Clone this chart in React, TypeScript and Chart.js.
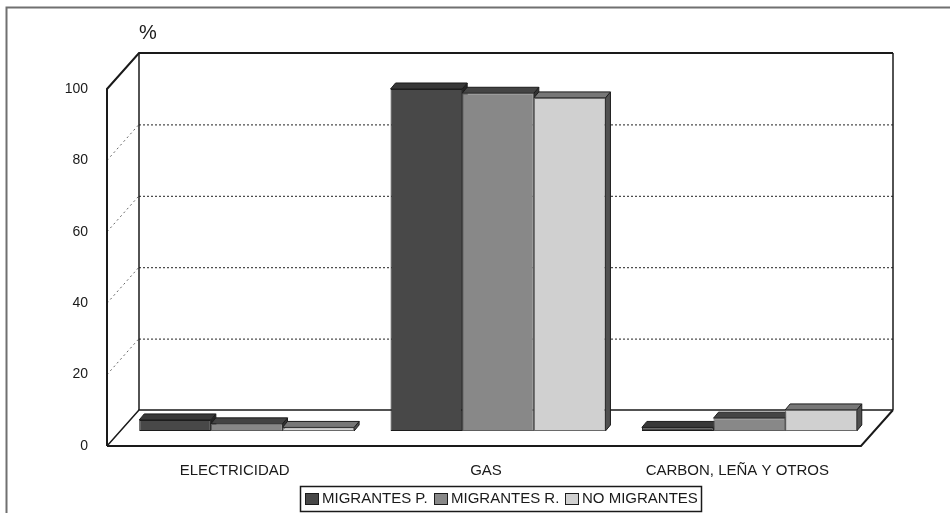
import React, { useEffect, useRef } from "react";
import { Chart, registerables } from "chart.js";

Chart.register(...registerables);

const categories = ["ELECTRICIDAD", "GAS", "CARBON, LEÑA Y OTROS"];
const migrantesP = [3.1, 95.8, 1.0];
const migrantesR = [2.0, 94.6, 3.6];
const noMigrantes = [1.0, 93.3, 5.9];
const seriesNames = ["MIGRANTES P.", "MIGRANTES R.", "NO MIGRANTES"];
const yTicks = [0, 20, 40, 60, 80, 100];

const FONT = '"Liberation Sans", Arial, sans-serif';
const fills = ["#484848", "#888888", "#d0d0d0"];
const edges = ["#1c1c1c", "#5e5e5e", "#6a6a6a"];
const topFills = ["#383838", "#444444", "#777777"];
const sideFills = ["#242424", "#333333", "#505050"];

const WALL_DX = 32;
const WALL_DY = -36;
const BAR_DX = 14;
const BAR_DY = -15;
const BAR_DEPTH_X = 5;
const BAR_DEPTH_Y = 6;

function line(ctx: CanvasRenderingContext2D, pts: number[][], color: string, width: number, dash: number[] = []) {
  ctx.save();
  ctx.strokeStyle = color;
  ctx.lineWidth = width;
  ctx.setLineDash(dash);
  ctx.beginPath();
  pts.forEach((p, i) => (i ? ctx.lineTo(p[0], p[1]) : ctx.moveTo(p[0], p[1])));
  ctx.stroke();
  ctx.restore();
}

function poly(ctx: CanvasRenderingContext2D, pts: number[][], fill: string, stroke: string) {
  ctx.fillStyle = fill;
  ctx.strokeStyle = stroke;
  ctx.lineWidth = 1;
  ctx.beginPath();
  pts.forEach((p, i) => (i ? ctx.lineTo(p[0], p[1]) : ctx.moveTo(p[0], p[1])));
  ctx.closePath();
  ctx.fill();
  ctx.stroke();
}

const box3d = {
  id: "box3d",
  beforeDatasetsDraw(chart: any) {
    const { ctx, chartArea: a, scales } = chart;
    const y = scales.y;
    const L = a.left, R = a.right, T = y.getPixelForValue(100), B = y.getPixelForValue(0);
    ctx.save();
    // outer picture frame
    line(ctx, [[6.5, 513], [6.5, 7.5], [950, 7.5]], "#707070", 2);
    // inner gridlines on the back and side walls
    yTicks.slice(1, -1).forEach((t) => {
      const p = y.getPixelForValue(t);
      line(ctx, [[L, p], [L + WALL_DX, p + WALL_DY]], "#666666", 1, [2, 3]);
      line(ctx, [[L + WALL_DX, p + WALL_DY + 0.5], [R + WALL_DX, p + WALL_DY + 0.5]], "#222222", 1, [2, 2]);
    });
    // walls
    line(ctx, [[L + WALL_DX, B + WALL_DY], [L + WALL_DX, T + WALL_DY]], "#1a1a1a", 1.5);
    line(ctx, [[R + WALL_DX, T + WALL_DY], [R + WALL_DX, B + WALL_DY]], "#1a1a1a", 1.5);
    line(ctx, [[L, B], [L, T], [L + WALL_DX, T + WALL_DY], [R + WALL_DX, T + WALL_DY]], "#1a1a1a", 2);
    // floor
    line(ctx, [[R + WALL_DX, B + WALL_DY], [L + WALL_DX, B + WALL_DY], [L, B]], "#1a1a1a", 1.5);
    line(ctx, [[L, B], [R, B], [R + WALL_DX, B + WALL_DY]], "#1a1a1a", 2);
    // percent sign
    ctx.fillStyle = "#1a1a1a";
    ctx.font = `20px ${FONT}`;
    ctx.textAlign = "center";
    ctx.textBaseline = "middle";
    ctx.fillText("%", 148, 33);
    ctx.restore();

    // bars sit a little way back on the floor; everything below is shifted together
    ctx.save();
    ctx.translate(BAR_DX, BAR_DY);
    const dx = BAR_DEPTH_X;
    const dy = BAR_DEPTH_Y;
    categories.forEach((_, c) => {
      chart.data.datasets.forEach((_ds: any, s: number) => {
        const el = chart.getDatasetMeta(s).data[c];
        const x0 = el.x - el.width / 2;
        const x1 = el.x + el.width / 2;
        const top = el.y;
        const base = el.base;
        poly(ctx, [[x1, top], [x1 + dx, top - dy], [x1 + dx, base - dy], [x1, base]], sideFills[s], "#1c1c1c");
        poly(ctx, [[x0, top], [x0 + dx, top - dy], [x1 + dx, top - dy], [x1, top]], topFills[s], "#1c1c1c");
      });
    });
  },
  afterDatasetsDraw(chart: any) {
    const { ctx } = chart;
    ctx.restore();
    // legend
    ctx.save();
    ctx.fillStyle = "#ffffff";
    ctx.fillRect(300.5, 486.5, 401, 25);
    ctx.strokeStyle = "#1a1a1a";
    ctx.lineWidth = 1.5;
    ctx.strokeRect(300.5, 486.5, 401, 25);
    const swatchX = [305, 434, 565];
    ctx.font = `15px ${FONT}`;
    ctx.textAlign = "left";
    ctx.textBaseline = "middle";
    chart.data.datasets.forEach((ds: any, i: number) => {
      ctx.fillStyle = fills[i];
      ctx.strokeStyle = "#1c1c1c";
      ctx.lineWidth = 1;
      ctx.fillRect(swatchX[i] + 0.5, 493.5, 13, 11);
      ctx.strokeRect(swatchX[i] + 0.5, 493.5, 13, 11);
      ctx.fillStyle = "#1a1a1a";
      ctx.fillText(ds.label, swatchX[i] + 17, 499);
    });
    ctx.restore();
  },
};

export default function App() {
  const ref = useRef<HTMLCanvasElement>(null);
  useEffect(() => {
    const chart = new Chart(ref.current as HTMLCanvasElement, {
      type: "bar",
      data: {
        labels: categories,
        datasets: [migrantesP, migrantesR, noMigrantes].map((data, i) => ({
          label: seriesNames[i],
          data,
          backgroundColor: fills[i],
          borderColor: edges[i],
          borderWidth: 1,
          borderSkipped: false,
          categoryPercentage: 0.855,
          barPercentage: 1,
          clip: false as any,
        })),
      },
      options: {
        animation: false,
        responsive: false,
        layout: { padding: { left: 0, right: 89, top: 89, bottom: 0 } },
        plugins: { legend: { display: false }, tooltip: { enabled: false }, title: { display: false } },
        scales: {
          x: {
            grid: { display: false },
            border: { display: false },
            ticks: { color: "#1a1a1a", font: { family: FONT, size: 15 }, padding: 8, labelOffset: 2, maxRotation: 0, autoSkip: false },
            afterFit: (s: any) => { s.height = 67; },
          },
          y: {
            min: 0,
            max: 100,
            grid: { display: false },
            border: { display: false },
            afterBuildTicks: (s: any) => { s.ticks = yTicks.map((value) => ({ value })); },
            ticks: { color: "#1a1a1a", font: { family: FONT, size: 14 }, padding: 11 },
            afterFit: (s: any) => { s.width = 107; },
          },
        },
      },
      plugins: [box3d as any],
    });
    return () => chart.destroy();
  }, []);
  return (
    <div style={{ position: "fixed", left: 0, top: 0, width: 950, height: 513, background: "#fff" }}>
      <canvas ref={ref} width={950} height={513} style={{ display: "block" }} />
    </div>
  );
}
